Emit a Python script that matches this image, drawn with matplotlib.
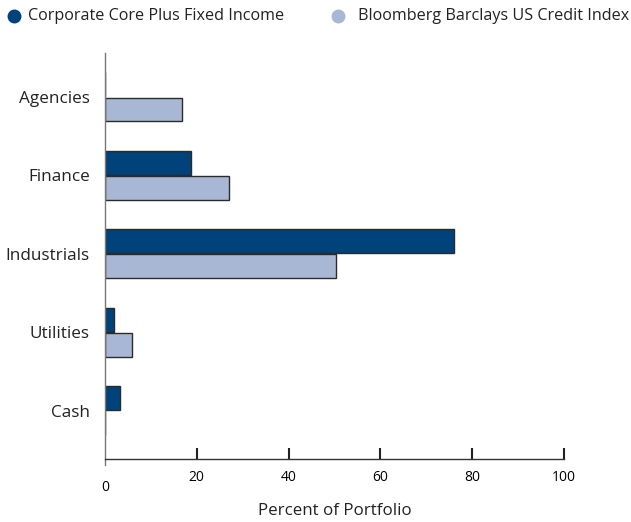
import matplotlib
matplotlib.use("Agg")
import matplotlib.pyplot as plt
from matplotlib.lines import Line2D
import numpy as np

categories = ["Agencies", "Finance", "Industrials", "Utilities", "Cash"]
core = [0.0, 18.7, 76.0, 2.0, 3.3]
index = [16.8, 27.0, 50.3, 5.9, 0.0]
series_names = ["Corporate Core Plus Fixed Income", "Bloomberg Barclays US Credit Index"]
xticks = [0, 20, 40, 60, 80, 100]

c_core = "#00427A"
c_idx = "#A8B8D4"
edge = "#2b2b2b"
txt = "#222222"

plt.rcParams['font.family'] = ['Open Sans', 'DejaVu Sans']

fig = plt.figure(figsize=(6.31, 5.22), dpi=100)
W, H = 631, 522
ax = fig.add_axes([105 / W, (H - 465) / H, (564 - 105) / W, (465 - 53) / H])

y = np.arange(len(categories))
h = 0.305
off = 0.16
ax.barh(y - off, core, height=h, color=c_core, edgecolor=edge, linewidth=1.0)
ax.barh(y + off, index, height=h, color=c_idx, edgecolor=edge, linewidth=1.0)

ax.set_ylim(4.69, -0.56)
ax.set_xlim(0, 100)
ax.set_yticks(y)
ax.set_yticklabels(categories, fontsize=12.3, color=txt)
ax.tick_params(axis='y', length=0, pad=11)
# major ticks 20..100, the 0 label sits lower (minor tick with larger pad)
ax.set_xticks(xticks[1:])
ax.set_xticklabels([str(v) for v in xticks[1:]], fontsize=10.5, color=txt)
ax.set_xticks(xticks[:1], minor=True)
ax.set_xticklabels([str(v) for v in xticks[:1]], minor=True, fontsize=10.5, color=txt)
ax.tick_params(axis='x', which='major', direction='in', length=8, width=1.5, pad=8, color="#222222")
ax.tick_params(axis='x', which='minor', direction='in', length=0, width=1.5, pad=15, color="#222222")
for s in ['top', 'right']:
    ax.spines[s].set_visible(False)
ax.spines['bottom'].set_position(('axes', 6 / 412))
ax.spines['left'].set_color("#777777")
ax.spines['left'].set_linewidth(1.0)
ax.spines['bottom'].set_color("#333333")
ax.spines['bottom'].set_linewidth(1.0)
ax.set_xlabel("Percent of Portfolio", fontsize=12.2, color=txt, labelpad=6)

# legend drawn manually
fs_leg = 11.6
ly = 1 - 16 / H
fig.add_artist(Line2D([14 / W], [ly], marker='o', markersize=9, color=c_core,
                      linestyle='none', transform=fig.transFigure))
fig.text(28 / W, ly, series_names[0], fontsize=fs_leg, color=txt, va='center', ha='left')
fig.add_artist(Line2D([338 / W], [ly], marker='o', markersize=9, color=c_idx,
                      linestyle='none', transform=fig.transFigure))
fig.text(629 / W, ly, series_names[1], fontsize=fs_leg, color=txt, va='center', ha='right')

fig.savefig("out.png", dpi=100)
